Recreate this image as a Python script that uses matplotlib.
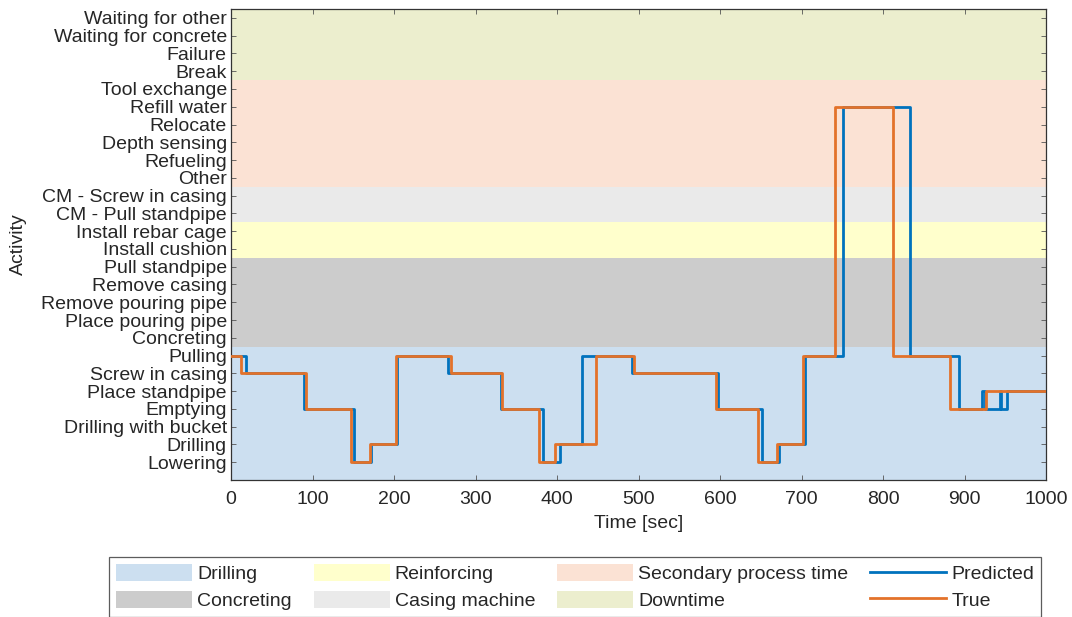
import matplotlib
matplotlib.use("Agg")
import matplotlib.pyplot as plt
from matplotlib.patches import Patch
from matplotlib.lines import Line2D

plt.rcParams['font.family'] = ['Liberation Sans', 'DejaVu Sans']

activities = ['Lowering', 'Drilling', 'Drilling with bucket', 'Emptying',
              'Place standpipe', 'Screw in casing', 'Pulling',
              'Concreting', 'Place pouring pipe', 'Remove pouring pipe',
              'Remove casing', 'Pull standpipe',
              'Install cushion', 'Install rebar cage',
              'CM - Pull standpipe', 'CM - Screw in casing',
              'Other', 'Refueling', 'Depth sensing', 'Relocate',
              'Refill water', 'Tool exchange',
              'Break', 'Failure', 'Waiting for concrete', 'Waiting for other']

group_names = ['Drilling', 'Concreting', 'Reinforcing', 'Casing machine',
               'Secondary process time', 'Downtime']
group_first = ['Lowering', 'Concreting', 'Install cushion', 'CM - Pull standpipe',
               'Other', 'Break']
group_last = ['Pulling', 'Pull standpipe', 'Install rebar cage', 'CM - Screw in casing',
              'Tool exchange', 'Waiting for other']
group_colors = ['#CCDFF0', '#CCCCCC', '#FFFFCC', '#EAEAEA', '#FBE2D4', '#ECEECE']

true_times = [0, 12, 91.5, 147, 170, 203, 270.5, 333, 378, 398, 447.5, 495,
              594.7, 647, 669.5, 701.5, 741.5, 812.7, 882, 926.5]
true_acts = ['Pulling', 'Screw in casing', 'Emptying', 'Lowering', 'Drilling', 'Pulling',
             'Screw in casing', 'Emptying', 'Lowering', 'Drilling', 'Pulling',
             'Screw in casing', 'Emptying', 'Lowering', 'Drilling', 'Pulling',
             'Refill water', 'Pulling', 'Emptying', 'Place standpipe']

pred_times = [0, 18, 89.5, 151.5, 171.5, 203.5, 266.5, 331, 383, 403.5, 431, 492,
              597.5, 652, 672, 704, 751.3, 833, 893.6, 921, 925.5, 943, 945, 952]
pred_acts = ['Pulling', 'Screw in casing', 'Emptying', 'Lowering', 'Drilling', 'Pulling',
             'Screw in casing', 'Emptying', 'Lowering', 'Drilling', 'Pulling',
             'Screw in casing', 'Emptying', 'Lowering', 'Drilling', 'Pulling',
             'Refill water', 'Pulling', 'Emptying', 'Place standpipe', 'Emptying',
             'Place standpipe', 'Emptying', 'Place standpipe']

t_end = 1000
x_ticks = [0, 100, 200, 300, 400, 500, 600, 700, 800, 900, 1000]

FS = 14

fig = plt.figure(figsize=(10.72, 6.17), dpi=100)
ax = fig.add_axes([231 / 1072, 1 - 480 / 617, (1046 - 231) / 1072, (480 - 9) / 617])

idx = {a: i + 1 for i, a in enumerate(activities)}

ymin, ymax = 0, len(activities) + 0.5
for gi, (name, f, l, c) in enumerate(zip(group_names, group_first, group_last, group_colors)):
    lo = idx[f] - 0.5 if gi > 0 else ymin
    hi = idx[l] + 0.5
    ax.axhspan(lo, hi, color=c, lw=0, zorder=0)

blue = '#0072BD'
orange = '#E3722A'

px = pred_times + [t_end]
py = [idx[a] for a in pred_acts]
py = py + [py[-1]]
tx = true_times + [t_end]
ty = [idx[a] for a in true_acts]
ty = ty + [ty[-1]]
ax.step(px, py, where='post', color=blue, lw=2.0, zorder=3)
ax.step(tx, ty, where='post', color=orange, lw=2.0, zorder=4)

ax.set_xlim(0, t_end)
ax.set_ylim(ymin, ymax)
ax.set_xticks(x_ticks)
ax.set_yticks(range(1, len(activities) + 1))
ax.set_yticklabels(activities)
tc = '#262626'
ax.tick_params(axis='both', direction='in', top=True, right=True, length=3.5,
               width=0.6, color='#555555', labelsize=FS, labelcolor=tc)
ax.tick_params(axis='x', pad=8)
ax.tick_params(axis='y', pad=3)
for s in ax.spines.values():
    s.set_color('#333333')
    s.set_linewidth(0.9)
ax.set_xlabel('Time [sec]', fontsize=FS, color=tc)
ax.set_ylabel('Activity', fontsize=FS, color=tc)
ax.xaxis.label.set_va('center')
ax.yaxis.label.set_va('center')
ax.xaxis.set_label_coords(0.5, (480 - 523) / 471)
ax.yaxis.set_label_coords((18 - 231) / 815, 0.5)

handles = [Patch(facecolor=c, edgecolor='none', label=n) for n, c in zip(group_names, group_colors)]
handles += [Line2D([], [], color=blue, lw=2, label='Predicted'),
            Line2D([], [], color=orange, lw=2, label='True')]
leg = fig.legend(handles=handles, ncol=4, loc='upper left',
                 bbox_to_anchor=(109 / 1072, 1 - 557 / 617),
                 bbox_transform=fig.transFigure,
                 fontsize=FS, frameon=True, fancybox=False, edgecolor='#333333',
                 handlelength=3.9, handleheight=1.0, handletextpad=0.27,
                 labelspacing=0.38, borderpad=0.36, borderaxespad=0, columnspacing=1.13)
leg.get_frame().set_linewidth(0.9)
for t in leg.get_texts():
    t.set_color(tc)

fig.savefig('out.png', dpi=100)
